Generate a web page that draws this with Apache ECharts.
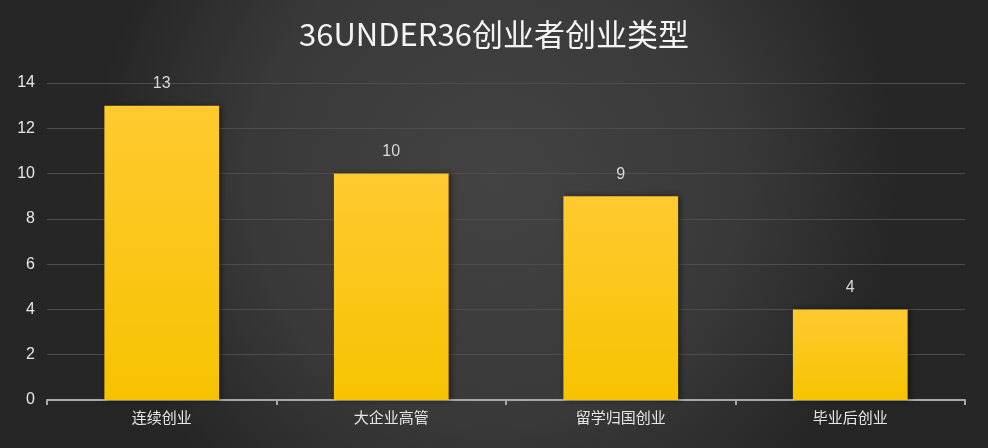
<!DOCTYPE html>
<html>
<head>
<meta charset="utf-8">
<script src="https://cdn.jsdelivr.net/npm/echarts@6/dist/echarts.min.js"></script>
<style>
  html, body { margin: 0; padding: 0; }
  #chart { width: 988px; height: 448px; }
</style>
</head>
<body>
<div id="chart"></div>
<script>
// chart data
var titleText = '36UNDER36创业者创业类型'
var categories = ['连续创业', '大企业高管', '留学归国创业', '毕业后创业']
var counts = [13, 10, 9, 4]
var yTicks = { min: 0, max: 14, interval: 2 }

var chart = echarts.init(document.getElementById('chart'))
chart.setOption({
  backgroundColor: {
    type: 'radial',
    x: 0.5,
    y: 0.4,
    r: 0.9,
    colorStops: [
      { offset: 0, color: '#434343' },
      { offset: 0.6, color: '#393939' },
      { offset: 1, color: '#262626' }
    ]
  },
  animation: false,
  title: {
    text: titleText,
    left: 'center',
    top: 14,
    textStyle: {
      color: '#f4f4f4',
      fontSize: 31,
      fontWeight: 'normal',
      fontFamily: '"Noto Sans CJK SC", sans-serif'
    }
  },
  grid: {
    left: 47,
    right: 23,
    top: 83,
    bottom: 48
  },
  xAxis: {
    type: 'category',
    data: categories,
    axisLine: {
      lineStyle: { color: '#a8a8a8', width: 2 }
    },
    axisTick: {
      show: true,
      length: 5,
      lineStyle: { color: '#a8a8a8', width: 2 }
    },
    axisLabel: {
      color: '#e6e6e6',
      fontSize: 15,
      margin: 10,
      fontFamily: '"Noto Sans CJK SC", sans-serif'
    }
  },
  yAxis: {
    type: 'value',
    min: yTicks.min,
    max: yTicks.max,
    interval: yTicks.interval,
    axisLine: { show: false },
    axisTick: { show: false },
    axisLabel: {
      color: '#e6e6e6',
      fontSize: 16,
      margin: 12,
      fontFamily: 'Liberation Sans, Arial, sans-serif'
    },
    splitLine: {
      lineStyle: { color: '#4d4d4d', width: 1 }
    }
  },
  series: [
    {
      type: 'bar',
      data: counts,
      barWidth: '50%',
      itemStyle: {
        color: {
          type: 'linear',
          x: 0, y: 0, x2: 0, y2: 1,
          colorStops: [
            { offset: 0, color: '#ffca30' },
            { offset: 1, color: '#f7c300' }
          ]
        },
        shadowColor: 'rgba(0,0,0,0.5)',
        shadowBlur: 6,
        shadowOffsetX: 2
      },
      label: {
        show: true,
        position: 'top',
        distance: 14,
        color: '#d8d8d8',
        fontSize: 16,
        fontFamily: 'Liberation Sans, Arial, sans-serif'
      }
    }
  ]
})
</script>
</body>
</html>
